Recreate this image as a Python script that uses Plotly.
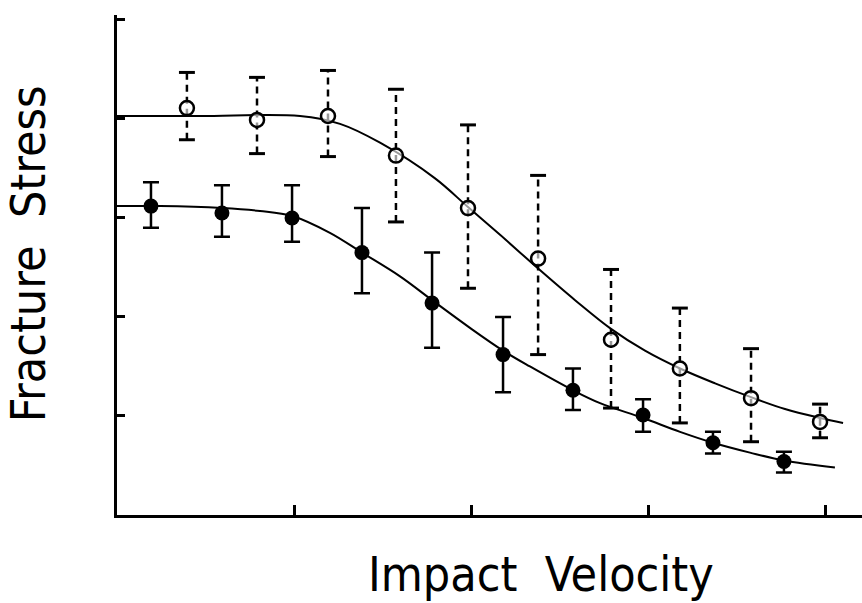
import plotly.graph_objects as go

# ---- data (arbitrary units: x in velocity tick units, y in stress tick units) ----
# open circles (dashed error bars)
open_x = [0.395, 0.791, 1.192, 1.576, 1.983, 2.379, 2.791, 3.180, 3.582, 3.972]
open_y = [4.11, 3.99, 4.03, 3.63, 3.10, 2.59, 1.77, 1.48, 1.18, 0.94]
open_hi = [4.47, 4.42, 4.49, 4.30, 3.94, 3.43, 2.48, 2.09, 1.68, 1.12]
open_lo = [3.79, 3.65, 3.62, 2.96, 2.29, 1.62, 1.08, 0.93, 0.74, 0.78]

# filled circles (solid error bars)
fill_x = [0.192, 0.593, 0.989, 1.384, 1.780, 2.181, 2.576, 2.972, 3.367, 3.768]
fill_y = [3.12, 3.05, 3.00, 2.65, 2.14, 1.62, 1.26, 1.01, 0.73, 0.54]
fill_hi = [3.36, 3.33, 3.33, 3.10, 2.65, 2.00, 1.48, 1.17, 0.84, 0.64]
fill_lo = [2.90, 2.81, 2.76, 2.24, 1.69, 1.24, 1.06, 0.84, 0.62, 0.43]

# fitted curves
upper_cx = [0.0, 0.469, 1.034, 1.260, 1.486, 1.797, 1.983, 2.164, 2.379, 2.588,
            2.791, 2.983, 3.181, 3.379, 3.582, 3.774, 3.972, 4.102]
upper_cy = [4.03, 4.03, 4.03, 3.95, 3.76, 3.40, 3.11, 2.83, 2.49, 2.17,
            1.88, 1.66, 1.48, 1.33, 1.19, 1.07, 0.98, 0.93]
lower_cx = [0.0, 0.243, 0.593, 0.808, 0.989, 1.203, 1.384, 1.599, 1.780, 1.994,
            2.181, 2.333, 2.576, 2.729, 2.972, 3.181, 3.367, 3.576, 3.768, 4.056]
lower_cy = [3.12, 3.12, 3.10, 3.07, 3.02, 2.85, 2.65, 2.41, 2.17, 1.89,
            1.66, 1.50, 1.26, 1.13, 0.98, 0.84, 0.73, 0.63, 0.55, 0.48]

y_ticks = [1, 2, 3, 4, 5]
x_ticks = [1, 2, 3, 4]

INK = "black"
CAP = 0.045  # half-width of error-bar caps, x units

fig = go.Figure()

# curves
for cxs, cys in ((upper_cx, upper_cy), (lower_cx, lower_cy)):
    fig.add_trace(go.Scatter(x=cxs, y=cys, mode="lines", line_shape="spline",
                             line=dict(color=INK, width=2), hoverinfo="skip"))

# dashed error bars for open circles
bx, by, cx, cy = [], [], [], []
for x, lo, hi in zip(open_x, open_lo, open_hi):
    bx += [x, x, None]
    by += [lo, hi, None]
    cx += [x - CAP, x + CAP, None, x - CAP, x + CAP, None]
    cy += [hi, hi, None, lo, lo, None]
fig.add_trace(go.Scatter(x=bx, y=by, mode="lines",
                         line=dict(color=INK, width=2.5, dash="7px,5px"), hoverinfo="skip"))
fig.add_trace(go.Scatter(x=cx, y=cy, mode="lines",
                         line=dict(color=INK, width=3), hoverinfo="skip"))

# open circles
fig.add_trace(go.Scatter(x=open_x, y=open_y, mode="markers",
                         marker=dict(symbol="circle", size=14, color="rgba(255,255,255,0.6)",
                                     line=dict(color=INK, width=2.5))))

# filled circles with solid error bars
fig.add_trace(go.Scatter(
    x=fill_x, y=fill_y, mode="markers",
    marker=dict(symbol="circle", size=15, color=INK),
    error_y=dict(type="data", symmetric=False,
                 array=[h - y for h, y in zip(fill_hi, fill_y)],
                 arrayminus=[y - l for y, l in zip(fill_y, fill_lo)],
                 color=INK, thickness=2.5, width=8),
))

title_font = dict(family="DejaVu Sans Condensed, DejaVu Sans, sans-serif", size=48, color=INK)
fig.add_annotation(text="Impact  Velocity", xref="paper", yref="paper",
                   x=0.569, y=-0.118, xanchor="center", yanchor="middle",
                   showarrow=False, font=title_font)
fig.add_annotation(text="Fracture  Stress", xref="paper", yref="paper",
                   x=-0.119, y=0.522, xanchor="center", yanchor="middle",
                   textangle=-90, showarrow=False, font=title_font)

fig.update_xaxes(range=[0, 4.209], showgrid=False, zeroline=False,
                 showline=True, linecolor=INK, linewidth=3,
                 ticks="inside", ticklen=10, tickwidth=3, tickcolor=INK,
                 tickvals=x_ticks, showticklabels=False)
fig.update_yaxes(range=[0, 5.05], showgrid=False, zeroline=False,
                 showline=True, linecolor=INK, linewidth=3,
                 ticks="inside", ticklen=8, tickwidth=3, tickcolor=INK,
                 tickvals=y_ticks, showticklabels=False)

fig.update_layout(width=862, height=603, showlegend=False,
                  plot_bgcolor="white", paper_bgcolor="white",
                  margin=dict(l=117, r=0, t=15, b=88))

fig.write_html("out.html")
